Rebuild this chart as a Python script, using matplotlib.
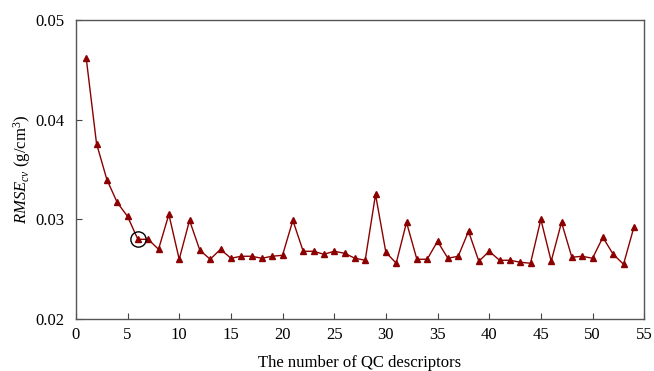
import numpy as np
import matplotlib
matplotlib.use('Agg')
import matplotlib.pyplot as plt

plt.rcParams['font.family'] = ['Liberation Serif', 'DejaVu Serif']
plt.rcParams['mathtext.fontset'] = 'custom'
plt.rcParams['mathtext.rm'] = 'Liberation Serif'
plt.rcParams['mathtext.it'] = 'Liberation Serif:italic'

n_desc = np.arange(1, 55)
rmse_cv = [0.0462, 0.0376, 0.0340, 0.0317, 0.0303, 0.0280, 0.0280, 0.0270, 0.0305, 0.0260,
           0.0299, 0.0269, 0.0260, 0.0270, 0.0261, 0.0263, 0.0263, 0.0261, 0.0263, 0.0264,
           0.0299, 0.0268, 0.0268, 0.0265, 0.0268, 0.0266, 0.0261, 0.0259, 0.0325, 0.0267,
           0.0256, 0.0297, 0.0260, 0.0260, 0.0278, 0.0261, 0.0263, 0.0288, 0.0258, 0.0268,
           0.0259, 0.0259, 0.0257, 0.0256, 0.0300, 0.0258, 0.0297, 0.0262, 0.0263, 0.0261,
           0.0282, 0.0265, 0.0255, 0.0292]
best = 6

fig = plt.figure(figsize=(6.54, 3.71), dpi=100)
ax = fig.add_axes([0.116, 0.140, 0.869, 0.806])

ax.plot(n_desc, rmse_cv, color='#8b0000', lw=1.0, marker='^', ms=5)
ax.plot(best, rmse_cv[best - 1], 'o', mfc='none', mec='black', ms=11, mew=1.0)

ax.set_xlim(0, 55)
ax.set_ylim(0.02, 0.05)
ax.set_xticks(np.arange(0, 56, 5))
ax.set_yticks([0.02, 0.03, 0.04, 0.05])
ax.tick_params(direction='in', length=4, labelsize=12, top=False, right=False,
               colors='#444444', labelcolor='black')
ax.tick_params(axis='y', pad=8)
ax.tick_params(axis='x', pad=6)
for s in ax.spines.values():
    s.set_linewidth(1.0)
    s.set_color('#555555')

ax.set_xlabel('The number of QC descriptors', fontsize=12, labelpad=8)
ax.set_ylabel(r'$RMSE_{cv}$ (g/cm$^3$)', fontsize=12, labelpad=2)

plt.savefig('out.png')
